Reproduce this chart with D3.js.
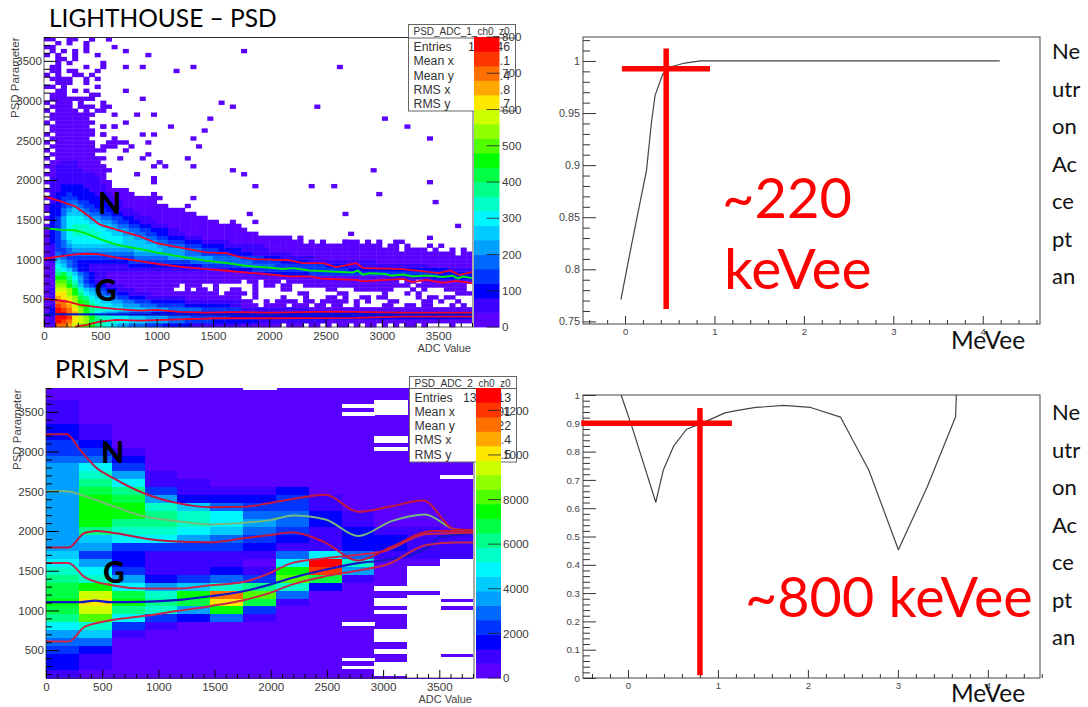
<!DOCTYPE html>
<html><head><meta charset="utf-8">
<style>html,body{margin:0;padding:0;background:#fff}svg{display:block}
text{font-family:"Liberation Sans",Arial,sans-serif}
.cal{font-family:Lato,"Open Sans",sans-serif}
</style>
<script src="https://cdnjs.cloudflare.com/ajax/libs/d3/7.8.5/d3.min.js"></script>
</head><body>
<svg id="c" width="1088" height="707"></svg>
<script>
// ROOT rainbow palette, 20 contour levels, low to high (keys 0-9,a-j)
const palette = ["#5a00ff","#3a00ff","#0000ff","#0034ff","#0068ff","#00a0ff","#00ccff","#00f6ff","#00ffc8","#00ff88","#00ff44","#00ff00","#50ff00","#90ff00","#ccff00","#ffe800","#ffa800","#ff7000","#ff3400","#ff0000"];
const levelKeys = "0123456789abcdefghij";

// LIGHTHOUSE heat map, one string per PSD row (50 wide bins), columns every 50 ADC, '.' = empty
const lhPsdStart = 150;
const lhRows = [
"00hhgedcb9 8765544433 3222221111 11111|0100000.000.00.0.00.0.00.0.0.00.0....0...0",
"01jihfeda9 9887766655 5544433333 22222|22211111111111100000000000000000000000000",
"01jjifedb9 8877766655 5544443333 33322|22222222222222222222222222222222222222222",
"02jjhgdb97 6554433332 2222222222 22222|22222222222222222222222222222222222222222",
"02jihfdb98 8777666655 5544444433 33333|11111111111100000000000000000000000000000",
"01ihgecb98 7766555444 3333322222 22211|000.0000.000.00.00..0....00..00.00...0.0.",
"01hhfdba87 6655443332 2222211111 11111|00..0.0000.00.00000.0.0...00....00.0..0..",
"01gfeda976 5543322211 1111100000 00000|..0....0...0...00.0..00.00.....0.00.00...",
"01ffdb9765 4332211110 0000000000 0.000|0.0.......00.....00......0...0.0......000",
"01eedb8654 3221110000 000..0.00. 0..00|..0....00......00...0000000...0.0...0000.",
"00ddb96432 2111000000 0000.000.. 0....|..0.00.00..0000000000000000000.000000000.",
"00cca85321 1000000000 0000000000 00000|.00.000.00000000000000000000.00.0000000000",
"00bb975321 1000000000 0000000000 00000|00000000000000000000000000111111112222222",
"009a864321 1000000000 0000000000 00000|01112222222233333333333333333333333222222",
"0087642211 1111111111 1111111111 11122|22333333333333333332222222222222222221111",
"0076432211 1111122222 2222222233 33333|44444433333333322221111111111111100000000",
"0165432222 2222233333 3333334444 44444|44333332222211111111111100000000000000000",
"0154333333 3333334444 4455555555 44444|33332221111110000000000000000000000000000",
"0143444444 4444445555 5555544433 33322|22111111100000000000000000000000000000.00",
"0133455555 5555556666 6555544433 32222|1111100000000000000000000000.0000.0..0.0.0",
"0134566666 6666666666 5544433322 22111|1111000000000000000000000.00.0...0.0..",
"0234677777 7777666655 4433322211 11100|00000000000.0.0...000.0.0..00.",
"0235777777 7777665544 3322211100 00000|000000000.0..",
"0235788888 7766554433 2211100000 00000|000",
"0235788887 7665544332 2211000000 00000|0",
"0235788877 6654433221 1100000000 00000",
".235777766 5543322111 0000000000 0",
"0235777655 4433221110 000000000",
".224666544 3322111000 0000000",
"0224565433 3221110000 00000",
"0223454332 2211000000 00",
".123443322 2111000000",
"0123332222 1110000000",
".122322221 110000",
"0112222211 10000",
".112222111 10",
"0111111111 00",
".111111111 0",
"0011111110 0",
".011111000 00",
"0011110000 0",
".001110000",
"0.000000000..0",
".00000000..",
"0.000000000",
".00000000.000",
"0.0000000..000",
".0000000..",
"0.0000000.0",
".00000000",
".0000000..0.0",
"0.0000000",
".0000000",
".00000000",
"0.0000.0.00",
".0000.000.00",
"0.000.0...0",
".00000000",
".000....00.",
"..00.0.0",
"00.0.....0",
"..000..0..",
".0000..0.0",
"0.0..00.0",
".00.00...0",
".00....0..0",
"..0.0...",
"..00.0",
"0.0..0",
".0.0.0.0",
"00.....0",
"..0.0..0",
"00..00..0..0"
];
// isolated single LIGHTHOUSE cells: [ADC, PSD]
const lhSparseAdc = [1776,919,727,623,570,422,473,526,727,875,1176,1324,727,875,1575,1673,1472,1123,1421,623,821,975,727,526,623,526,875,975,623,1324,727,925,1398,777,703,875,925,1274,1022,975,1073,1324,1673,1776,821,975,2619,2421,3023,3218,3419,2920,2370,2571,3422,2970,3473,2669,3668,2722,3416,2669,975,1880,970,1028,925,1324,1274,1820,1870,1650];
const lhSparsePsd = [3639,3584,3639,3689,3782,3782,3584,3458,3437,3437,3386,3437,3134,3016,2987,2932,2785,2688,2637,2835,2835,2835,2742,2688,2688,2582,2582,2582,2540,2540,2490,2490,2435,2435,2385,2292,2320,2292,2229,2187,2187,2187,2111,2082,2090,2027,3437,2932,2785,2688,2536,2132,1935,1935,1986,1830,1733,1586,1430,1333,1279,1228,1986,1935,1838,1775,1691,1775,1678,1586,1480,1480];

// LIGHTHOUSE fitted lines
const lhUpperAdc = [0,142,275,378,496,644,851,999,1235,1442,1619,1738,1856,2004,2181,2300,2477,2595,2772,2831,3186,3511,3600,3688,3800];
const lhUpperPsd = [1796,1733,1670,1565,1438,1375,1291,1207,1144,1089,1081,1030,1005,997,990,955,955,904,955,891,879,828,862,807,841];
const lhMidAdc = [0,142,275,378,496,644,851,999,1235,1442,1619,1738,1856,2004,2122,2211,2359,2595,2743,2787,2831,2890,3038,3083,3186,3275,3393,3541,3629,3674,3718,3800];
const lhMidPsd = [1396,1375,1367,1325,1258,1186,1131,1089,1030,984,955,929,912,896,879,891,862,845,837,862,807,828,816,795,811,786,798,778,795,761,786,765];
const lhLowerAdc = [0,142,275,378,496,644,851,999,1235,1442,1619,1856,2004,2181,2359,2477,2772,2831,3186,3275,3393,3541,3659,3800];
const lhLowerPsd = [1009,1039,1064,1072,1064,1022,980,946,904,879,858,828,811,786,786,757,744,723,757,715,744,706,731,702];
const lhGUpperAdc = [0,201,319,437,644,851,999,1206,1442,1678,2004,2595,3186,3800];
const lhGUpperPsd = [508,471,428,407,374,357,365,340,332,336,332,344,332,332];
const lhGLowerAdc = [275,378,496,644,851,1206,1530,2004,2772,3186,3800];
const lhGLowerPsd = [155,176,218,239,231,247,260,260,264,281,281];
const lhGMidAdc = [0,2000,3800];
const lhGMidPsd = [311,303,310];

// PRISM heat map, one string per ADC column (13 bins), rows centred on PSD 3800 down in 100 steps
const prismCols = [
"001112233 4555555555 5567 89aaba 97543221",
"000001123 4789abbbb9 653578befe c8642110",
"000000001 23579abb98 7322357ab9 73100000",
"000000000 0011358998 7311125898 31000000",
"000000000 0001126887 5311136ba5 20000000",
"000000000 0000124776 4311248hfb 40000000",
"000000000 0000123454 3210139ca3 10000000",
"000000000 0000233443 2147bc8410 00000000",
"000000000 0000011221 117jia2000 00000000",
"000000000 0000000112 2248510000 00000000",
"000000000 0000000001 2210000000 00000000",
"000000000 0000000001 1110000000 00000000",
"000000000 0000000000 1110000000 00000000"
];
// empty stripes in PRISM: column, PSD high, PSD low
const gapCol = [6,9,9,9,9,9,10,10,10,10,10,10,10,10,10,11,11,12,12,12,12,12];
const gapHi  = [3800,3600,3500,854,408,304,3646,3196,3054,1304,1158,1004,762,512,354,1554,1200,1646,1104,1008,412,2700];
const gapLo  = [3770,3550,3450,804,358,262,3458,3104,3008,1242,1054,950,604,450,179,1250,150,1150,1054,458,150,2650];

// PRISM fitted lines
const prUpperAdc = [0,184,303,451,599,866,1163,1460,1757,1993,2171,2488,2779,3075,3357,3639,3802];
const prUpperPsd = [3217,3217,3021,2792,2667,2479,2354,2300,2304,2354,2396,2458,2242,2312,2383,2021,2012];
const prMidAdc = [0,184,303,599,866,1163,1460,1757,1993,2201,2488,2779,3075,3372,3639,3802];
const prMidPsd = [2500,2500,2458,2312,2187,2125,2083,2104,2137,2196,2146,1937,2125,2208,2021,2000];
const prLowerAdc = [0,199,347,451,629,866,1074,1460,1757,1993,2186,2468,2779,3075,3446,3625,3802];
const prLowerPsd = [1792,1792,1979,2000,1971,1908,1875,1858,1908,1950,1983,1867,1629,1804,2000,2000,1992];
const prGUpperAdc = [0,199,347,585,866,1163,1460,1757,1993,2186,2482,2779,3031,3387,3802];
const prGUpperPsd = [1596,1596,1417,1317,1275,1275,1317,1358,1471,1596,1658,1700,1754,1962,1979];
const prGMidAdc = [0,303,436,570,866,1163,1460,1757,1993,2186,2482,2779,3031,3387,3505,3802];
const prGMidPsd = [1104,1104,1125,1104,1108,1129,1179,1242,1325,1408,1512,1596,1637,1783,1921,1970];
const prGLowerAdc = [0,199,347,585,866,1163,1460,1757,1993,2186,2482,2779,3031,3387,3654,3802];
const prGLowerPsd = [608,608,796,879,929,992,1054,1129,1221,1325,1429,1504,1575,1825,1854,1854];

// acceptance curves
const accTopE = [-0.046,0.076,0.24,0.294,0.336,0.42,0.496,0.668,0.84,4.19];
const accTopV = [0.771,0.825,0.895,0.94,0.967,0.987,0.994,0.998,1,1];
const accBotE = [-0.076,0.05,0.309,0.392,0.507,0.651,0.811,1.078,1.19,1.42,1.726,2.03,2.362,2.678,3.006,3.326,3.642,3.65];
const accBotV = [1,0.882,0.621,0.734,0.819,0.879,0.899,0.937,0.944,0.956,0.963,0.956,0.922,0.734,0.453,0.675,0.923,1];

// texts and ticks
const statNames = ["Entries","Mean x","Mean y","RMS x","RMS y"];
const lhStatRight = ["46",".1",".4",".8",".7"];
const prStatRight = ["13","91","22",".4",".5"];
const adcTicks = [0,500,1000,1500,2000,2500,3000,3500];
const psdTicks = [500,1000,1500,2000,2500,3000,3500];
const lhZTicks = [0,100,200,300,400,500,600,700,800];
const prZTicks = [0,2000,4000,6000,8000,10000,12000];
const prZLabels = ["0","2000","4000","6000","8000","1000","1200"];
const sideWords = ["Ne","utr","on","Ac","ce","pt","an"];

const svg = d3.select("#c");
const defs = svg.append("defs");
defs.append("filter").attr("id","soft").attr("x","-2%").attr("y","-2%").attr("width","104%").attr("height","104%")
  .append("feGaussianBlur").attr("stdDeviation",0.55);
defs.append("filter").attr("id","softer").attr("x","-5%").attr("y","-5%").attr("width","110%").attr("height","110%")
  .append("feGaussianBlur").attr("stdDeviation",0.35);

const intFmt = d3.format("d");
function zip(a,b){return a.map((d,i)=>[d,b[i]]);}
function drawLine(g,x,y,xs,ys,color,w,curve){
  g.append("path").datum(zip(xs,ys)).attr("fill","none").attr("stroke",color).attr("stroke-width",w)
    .attr("stroke-linejoin","round")
    .attr("d",d3.line().curve(curve||d3.curveLinear).x(d=>x(d[0])).y(d=>y(d[1])));
}
function range(a,b,s){return d3.range(a,b+s/2,s);}
function axes(g,x,y,x0,h){
  const ax=(gen,t)=>{const n=g.append("g").attr("transform",t).call(gen);n.select(".domain").remove();return n;};
  ax(d3.axisLeft(y).tickValues(range(200,3800,100).filter(v=>v%500)).tickSize(-6).tickFormat(""),`translate(${x0},0)`);
  const yy=ax(d3.axisLeft(y).tickValues(psdTicks).tickSize(-13).tickFormat(intFmt),`translate(${x0},0)`);
  yy.selectAll("text").attr("x",-2).attr("fill","#3a3a3a").style("font-size","11.6px").style("font-family","Liberation Sans");
  ax(d3.axisBottom(x).tickValues(range(100,3800,100).filter(v=>v%500)).tickSize(-4).tickFormat(""),`translate(0,${h})`);
  const xx=ax(d3.axisBottom(x).tickValues(adcTicks).tickSize(-8).tickFormat(intFmt),`translate(0,${h})`);
  xx.selectAll("text").attr("y",5).attr("fill","#3a3a3a").style("font-size","11.6px").style("font-family","Liberation Sans");
}
function colorBar(g,x0,w,y0,y1,zmax,ticks,labels,lx){
  const s=d3.scaleBand().domain(d3.range(20)).range([y1,y0]).paddingInner(0);
  g.append("g").attr("filter","url(#softer)").selectAll("rect").data(palette).join("rect")
    .attr("x",x0).attr("width",w).attr("y",(d,i)=>s(i)).attr("height",s.bandwidth()+0.4).attr("fill",d=>d);
  const z=d3.scaleLinear().domain([0,zmax]).range([y1,y0]);
  g.selectAll(".zt").data(ticks).join("line").attr("x1",x0+w-13).attr("x2",x0+w).attr("y1",d=>z(d)).attr("y2",d=>z(d)).attr("stroke","#222").attr("stroke-width",0.8);
  g.selectAll(".zl").data(ticks).join("text").attr("x",lx).attr("y",d=>z(d)+4.2).attr("fill","#3a3a3a").style("font-size","11.6px").text((d,i)=>labels[i]);
}
function statBox(g,x,y,w,title,midY,hY,rightX,leftVal,rightVals,leftX){
  g.append("rect").attr("x",x).attr("y",y).attr("width",w).attr("height",hY-y).attr("fill","#fff").attr("stroke","#666").attr("stroke-width",1);
  g.append("line").attr("x1",x).attr("x2",x+w).attr("y1",midY).attr("y2",midY).attr("stroke","#666");
  g.append("text").attr("x",x+5).attr("y",y+10.5).attr("fill","#333").style("font-size","10px").text(title);
  const rowH=14.25;
  statNames.forEach((n,i)=>{
    const yy=midY+13+rowH*i;
    g.append("text").attr("x",x+5).attr("y",yy).attr("fill","#333").style("font-size","12.3px").text(n);
    g.append("text").attr("x",rightX).attr("y",yy).attr("text-anchor","end").attr("fill","#333").style("font-size","12.3px").text(rightVals[i]);
  });
  g.append("text").attr("x",leftX).attr("y",midY+13).attr("fill","#333").style("font-size","12.3px").text(leftVal);
}

/* ---------- LIGHTHOUSE heat map ---------- */
(function(){
  const x=d3.scaleLinear().domain([0,3800]).range([44,472]);
  const y=d3.scaleLinear().domain([150,3800]).range([327,37]);
  const g=svg.append("g");
  const cells=[];
  lhRows.forEach((row,r)=>{
    row.replace(/[\s|]/g,"").split("").forEach((c,i)=>{
      if(c!=="."&&i<76) cells.push({a:i*50,p:lhPsdStart+r*50,l:levelKeys.indexOf(c)});
    });
  });
  lhSparseAdc.forEach((a,i)=>cells.push({a:Math.floor(a/50)*50,p:Math.floor((lhSparsePsd[i]-lhPsdStart)/50)*50+lhPsdStart,l:0}));
  const heat=g.append("g").attr("filter","url(#soft)");
  heat.selectAll("rect").data(cells).join("rect")
    .attr("x",d=>x(d.a)).attr("width",d=>x(d.a+50)-x(d.a)+0.4)
    .attr("y",d=>y(d.p+50)).attr("height",d=>y(d.p)-y(d.p+50)+0.4)
    .attr("fill",d=>palette[d.l]);
  drawLine(g,x,y,lhGMidAdc,lhGMidPsd,"#0018c8",2);
  drawLine(g,x,y,lhUpperAdc,lhUpperPsd,"#f0002a",1.8);
  drawLine(g,x,y,lhLowerAdc,lhLowerPsd,"#f0002a",1.8);
  drawLine(g,x,y,lhMidAdc,lhMidPsd,"#00e814",2);
  drawLine(g,x,y,lhGUpperAdc,lhGUpperPsd,"#f0002a",1.8);
  drawLine(g,x,y,lhGLowerAdc,lhGLowerPsd,"#f0002a",1.8);
  g.append("line").attr("x1",44).attr("x2",410).attr("y1",37.5).attr("y2",37.5).attr("stroke","#333");
  g.append("line").attr("x1",473).attr("x2",473).attr("y1",37).attr("y2",328).attr("stroke","#aaa").attr("stroke-width",2);
  g.append("line").attr("x1",44).attr("x2",44).attr("y1",37).attr("y2",327).attr("stroke","#333").attr("stroke-width",0.8);
  g.append("line").attr("x1",44).attr("x2",472).attr("y1",327).attr("y2",327).attr("stroke","#333").attr("stroke-width",0.8);
  axes(g,x,y,44,327);
  statBox(g,408.5,24.5,107,"PSD_ADC_1_ch0_z0",38,111,510,"1",lhStatRight,468);
  colorBar(g,474,25.5,37,327,800,lhZTicks,lhZTicks.map(String),502);
  g.append("text").attr("transform","translate(19,118) rotate(-90)").attr("fill","#444").style("font-size","11.5px").text("PSD Parameter");
  g.append("text").attr("x",471).attr("y",352).attr("text-anchor","end").attr("fill","#444").style("font-size","11px").text("ADC Value");
})();

/* ---------- PRISM heat map ---------- */
(function(){
  const x=d3.scaleLinear().domain([0,3800]).range([46,473]);
  const y=d3.scaleLinear().domain([150,3800]).range([678,388]);
  const bin=3800/13;
  const g=svg.append("g");
  const cells=[];
  prismCols.forEach((col,c)=>{
    col.replace(/\s/g,"").split("").forEach((k,r)=>{
      cells.push({c,top:Math.min(3800,3850-100*r),bot:Math.max(150,3750-100*r),l:levelKeys.indexOf(k)});
    });
  });
  const heat=g.append("g").attr("filter","url(#soft)");
  heat.append("rect").attr("x",46).attr("y",388).attr("width",427).attr("height",290).attr("fill",palette[0]);
  heat.selectAll("rect.cell").data(cells).join("rect").attr("class","cell").attr("shape-rendering","crispEdges")
    .attr("x",d=>x(d.c*bin)).attr("width",d=>x(bin)-x(0)+0.8)
    .attr("y",d=>y(d.top)).attr("height",d=>y(d.bot)-y(d.top)+0.8)
    .attr("fill",d=>palette[d.l]);
  heat.selectAll("rect.gap").data(gapCol.map((c,i)=>({c,hi:gapHi[i],lo:gapLo[i]}))).join("rect").attr("class","gap").attr("shape-rendering","crispEdges")
    .attr("x",d=>x(d.c*bin)).attr("width",d=>x(bin)-x(0)+1)
    .attr("y",d=>y(d.hi)).attr("height",d=>y(d.lo)-y(d.hi))
    .attr("fill","#fff");
  const soft=g.append("g").attr("filter","url(#softer)");
  const smooth=d3.curveMonotoneX;
  drawLine(soft,x,y,prGMidAdc,prGMidPsd,"#1414c8",2.2,smooth);
  drawLine(soft,x,y,prGUpperAdc,prGUpperPsd,"#c8284e",2,smooth);
  drawLine(soft,x,y,prGLowerAdc,prGLowerPsd,"#c8284e",2,smooth);
  drawLine(soft,x,y,prMidAdc,prMidPsd,"#78b87c",2,smooth);
  drawLine(soft,x,y,prUpperAdc,prUpperPsd,"#c41840",2,smooth);
  drawLine(soft,x,y,prLowerAdc,prLowerPsd,"#c41840",2,smooth);
  g.append("line").attr("x1",474).attr("x2",474).attr("y1",388).attr("y2",679).attr("stroke","#aaa").attr("stroke-width",2);
  g.append("line").attr("x1",46).attr("x2",473).attr("y1",678).attr("y2",678).attr("stroke","#333").attr("stroke-width",0.8);
  g.append("line").attr("x1",46).attr("x2",46).attr("y1",388).attr("y2",678).attr("stroke","#333").attr("stroke-width",0.8);
  axes(g,x,y,46,678);
  statBox(g,409.5,376.5,107,"PSD_ADC_2_ch0_z0",388.5,462,511,"13",prStatRight,463);
  colorBar(g,476,25,388,678,13000,prZTicks,prZLabels,503);
  g.append("text").attr("transform","translate(21,470) rotate(-90)").attr("fill","#444").style("font-size","11.5px").text("PSD Parameter");
  g.append("text").attr("x",472).attr("y",703).attr("text-anchor","end").attr("fill","#444").style("font-size","11px").text("ADC Value");
})();

/* ---------- acceptance panels ---------- */
function accPanel(o){
  const x=d3.scaleLinear().domain(o.xd).range([o.l,o.r]);
  const y=d3.scaleLinear().domain(o.yd).range([o.b,o.t]);
  const g=svg.append("g");
  g.append("rect").attr("x",o.l).attr("y",o.t).attr("width",o.r-o.l).attr("height",o.b-o.t).attr("fill","#fff").attr("stroke","#555").attr("stroke-width",1.1);
  const ax=(gen,t)=>{const n=g.append("g").attr("transform",t).call(gen);n.select(".domain").remove();n.selectAll("line").attr("stroke","#333");return n;};
  ax(d3.axisLeft(y).tickValues(o.yMinor).tickSize(-7).tickFormat(""),`translate(${o.l},0)`);
  const yy=ax(d3.axisLeft(y).tickValues(o.yMajor).tickSize(-13).tickFormat(d=>String(d)),`translate(${o.l},0)`);
  yy.selectAll("text").attr("x",-3).attr("fill","#444").style("font-size",o.fs+"px").style("font-family","Liberation Sans");
  ax(d3.axisBottom(x).tickValues(o.xMinor).tickSize(-4).tickFormat(""),`translate(0,${o.b})`);
  const xx=ax(d3.axisBottom(x).tickValues([0,1,2,3,4]).tickSize(-8).tickFormat(intFmt),`translate(0,${o.b})`);
  xx.selectAll("text").attr("y",4).attr("fill","#444").style("font-size","9.5px").style("font-family","Liberation Sans");
  drawLine(g,x,y,o.e,o.v,"#444",1.2);
  g.append("line").attr("x1",x(o.cx)).attr("x2",x(o.cx)).attr("y1",y(o.cvHi)).attr("y2",y(o.cvLo)).attr("stroke","#ff0000").attr("stroke-width",5.5);
  g.append("line").attr("x1",x(o.chLo)).attr("x2",x(o.chHi)).attr("y1",y(o.cy)).attr("y2",y(o.cy)).attr("stroke","#ff0000").attr("stroke-width",5.5);
  g.append("text").attr("class","cal").attr("x",o.mx).attr("y",o.my).attr("fill","#111").style("font-size","24.5px").text("MeVee");
  sideWords.forEach((w,i)=>g.append("text").attr("class","cal").attr("x",1052).attr("y",o.sy+i*37.5).attr("fill","#111").style("font-size","22px").text(w));
  o.notes.forEach(n=>g.append("text").attr("class","cal").attr("x",n[0]).attr("y",n[1]).attr("fill","#ff0000").style("font-size",n[3]+"px").text(n[2]));
}
accPanel({l:583,r:1040,t:37,b:324,xd:[-0.47,4.64],yd:[0.7475,1.023],
  yMajor:[0.75,0.8,0.85,0.9,0.95,1],yMinor:range(0.75,1.02,0.01).filter(v=>Math.round(v*100)%5),
  xMinor:range(-0.4,4.6,0.2).filter(v=>Math.abs(v-Math.round(v))>0.01),
  e:accTopE,v:accTopV,fs:10.8,cx:0.46,cvHi:1.012,cvLo:0.762,chLo:-0.035,chHi:0.95,cy:0.9925,
  mx:951,my:349,sy:59,notes:[[722,218,"~220",56],[724,289,"keVee",57]]});
accPanel({l:583,r:1040,t:395,b:678,xd:[-0.5,4.58],yd:[0,1],
  yMajor:d3.range(0,11).map(d=>d/10),yMinor:d3.range(0,51).map(d=>d/50).filter(v=>Math.round(v*50)%5),
  xMinor:range(-0.4,4.6,0.2).filter(v=>Math.abs(v-Math.round(v))>0.01),
  e:accBotE,v:accBotV,fs:9.8,cx:0.8,cvHi:0.954,cvLo:0.01,chLo:-0.52,chHi:1.155,cy:0.9,
  mx:951,my:702,sy:420,notes:[[745,617,"~800 keVee",55.7]]});

/* ---------- slide labels ---------- */
const marks=[["LIGHTHOUSE – PSD",49,27,24.5,400],["PRISM – PSD",55,378,25,400],["N",98,214,30,900],["G",95,301,30,900],["N",101,463,30,900],["G",103,583,30,900]];
svg.selectAll("text.m").data(marks).join("text").attr("class","cal m").attr("x",d=>d[1]).attr("y",d=>d[2]).attr("fill","#000")
  .style("font-size",d=>d[3]+"px").style("font-weight",d=>d[4]).text(d=>d[0]);
</script>
</body></html>
